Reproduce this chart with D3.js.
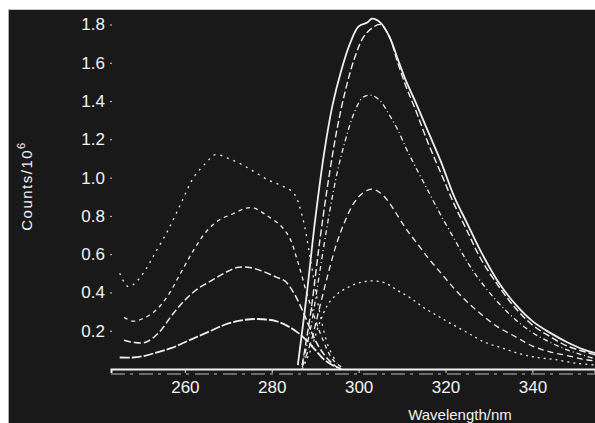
<!DOCTYPE html>
<html>
<head>
<meta charset="utf-8">
<script src="https://cdn.jsdelivr.net/npm/d3@7"></script>
<style>
  html, body { margin: 0; padding: 0; background: #ffffff; }
  #chart-container { width: 595px; height: 423px; }
  .tick text { font-family: "Liberation Sans Narrow", "Liberation Sans", Arial, sans-serif; }
</style>
</head>
<body>
<div id="chart-container"></div>
<script>
// x ticks / y ticks
const xTicks = [260, 280, 300, 320, 340];
const yTicks = [0.2, 0.4, 0.6, 0.8, 1.0, 1.2, 1.4, 1.6, 1.8];

// excitation spectra (left group) [nm, counts/10^6]
const excitation1 = [[245,0.06],[248,0.06],[251,0.07],[254,0.09],[257,0.11],[260,0.14],[263,0.17],[266,0.2],[269,0.23],[272,0.25],[275,0.26],[278,0.26],[281,0.25],[284,0.22],[286,0.19],[288,0.15],[290,0.1],[292,0.05],[294,0.02],[296,0.0]];
const excitation2 = [[246,0.15],[248,0.14],[251,0.14],[254,0.19],[257,0.28],[260,0.36],[263,0.42],[266,0.46],[269,0.5],[272,0.53],[275,0.53],[278,0.51],[281,0.48],[283,0.46],[285,0.4],[287,0.31],[289,0.2],[291,0.11],[293,0.05],[295,0.01]];
const excitation3 = [[246,0.27],[248,0.25],[250,0.26],[253,0.3],[256,0.38],[259,0.5],[262,0.62],[265,0.72],[268,0.78],[271,0.81],[274,0.84],[276,0.84],[279,0.8],[282,0.75],[284,0.69],[286,0.56],[288,0.4],[290,0.26],[292,0.14],[294,0.05],[296,0.01]];
const excitation4 = [[245,0.5],[247,0.43],[249,0.46],[251,0.52],[253,0.6],[256,0.72],[259,0.86],[262,1.0],[265,1.08],[267,1.12],[270,1.1],[273,1.07],[276,1.03],[279,0.99],[282,0.96],[285,0.92],[287,0.8],[289,0.56],[291,0.3],[293,0.12],[295,0.03]];

// emission spectra (right group)
const emission1 = [[286,0.02],[288,0.38],[290,0.78],[292,1.12],[294,1.38],[296,1.56],[298,1.7],[300,1.79],[302,1.81],[303,1.83],[305,1.81],[307,1.74],[309,1.62],[311,1.5],[313,1.4],[316,1.24],[319,1.08],[322,0.9],[325,0.76],[328,0.62],[332,0.46],[336,0.34],[340,0.25],[344,0.19],[348,0.14],[352,0.1],[355,0.08]];
const emission2 = [[287,0.02],[289,0.3],[291,0.66],[293,0.98],[295,1.25],[297,1.46],[299,1.62],[301,1.73],[303,1.78],[305,1.8],[307,1.74],[309,1.6],[311,1.47],[313,1.36],[316,1.18],[319,1.02],[322,0.86],[325,0.72],[328,0.58],[332,0.44],[336,0.32],[340,0.23],[344,0.17],[348,0.12],[352,0.09],[355,0.07]];
const emission3 = [[287,0.02],[289,0.22],[291,0.5],[293,0.78],[295,1.02],[297,1.2],[299,1.34],[301,1.42],[303,1.43],[305,1.4],[307,1.33],[309,1.25],[311,1.15],[313,1.06],[316,0.93],[319,0.8],[322,0.68],[325,0.56],[328,0.46],[332,0.35],[336,0.26],[340,0.19],[344,0.14],[348,0.1],[352,0.07],[355,0.05]];
const emission4 = [[287,0.01],[289,0.14],[291,0.32],[293,0.5],[295,0.66],[297,0.78],[299,0.87],[301,0.92],[303,0.94],[305,0.92],[307,0.87],[309,0.8],[311,0.73],[313,0.67],[316,0.58],[319,0.5],[322,0.42],[325,0.35],[328,0.29],[332,0.22],[336,0.17],[340,0.12],[344,0.09],[348,0.07],[352,0.05],[355,0.04]];
const emission5 = [[287,0.0],[289,0.1],[291,0.24],[293,0.34],[295,0.39],[297,0.42],[300,0.45],[303,0.46],[306,0.45],[309,0.41],[312,0.37],[315,0.32],[318,0.28],[321,0.24],[325,0.19],[329,0.14],[333,0.11],[337,0.08],[341,0.06],[345,0.05],[350,0.03],[355,0.02]];

const seriesList = [
    { data: excitation1, dash: '10,2', width: 1.8 },
    { data: excitation2, dash: '7,3', width: 1.5 },
    { data: excitation3, dash: '4,4', width: 1.3 },
    { data: excitation4, dash: '2,5', width: 1.3 },
    { data: emission1, dash: null, width: 1.8 },
    { data: emission2, dash: '7,3', width: 1.4 },
    { data: emission3, dash: '5,3,1,3', width: 1.3 },
    { data: emission4, dash: '6,4', width: 1.3 },
    { data: emission5, dash: '2,4', width: 1.3 }
];

function renderChart() {
    const container = document.getElementById('chart-container');
    const width = 595, height = 423;

    const svg = d3.select(container).append('svg')
        .attr('width', width).attr('height', height);

    // scanned black panel
    svg.append('rect').attr('x', 8).attr('y', 9)
        .attr('width', width - 8).attr('height', height - 9)
        .attr('fill', '#191919');
    svg.append('line').attr('x1', 8.5).attr('x2', 8.5).attr('y1', 9).attr('y2', height)
        .attr('stroke', '#b0b0b0');
    svg.append('line').attr('x1', 8).attr('x2', width).attr('y1', 9.5).attr('y2', 9.5)
        .attr('stroke', '#c8c8c8');

    const x = d3.scaleLinear().domain([243, 354.4]).range([111, 595]);
    const y = d3.scaleLinear().domain([0, 1.8]).range([369, 24.5]);

    // baseline + faint dashed line under it
    svg.append('line').attr('x1', x(243)).attr('x2', x(354.4))
        .attr('y1', y(0) + 5).attr('y2', y(0) + 5)
        .attr('stroke', '#bbbbbb').attr('stroke-width', 1.2).attr('stroke-dasharray', '14,5,3,6');

    const xAxis = svg.append('g').attr('transform', `translate(0,${y(0)})`)
        .call(d3.axisBottom(x).tickValues(xTicks).tickSize(4).tickPadding(8).tickFormat(d3.format('d')));
    xAxis.select('.domain').attr('stroke', '#f2f2f2').attr('stroke-width', 2);
    xAxis.selectAll('.tick line').attr('stroke', '#dddddd');
    xAxis.selectAll('.tick text').attr('fill', '#f2f2f2').style('font-size', '17px');

    const yAxis = svg.append('g').attr('transform', 'translate(112,0)')
        .call(d3.axisLeft(y).tickValues(yTicks).tickSize(2).tickPadding(5).tickFormat(d3.format('.1f')));
    yAxis.select('.domain').remove();
    yAxis.selectAll('.tick line').attr('stroke', '#cccccc');
    yAxis.selectAll('.tick text').attr('fill', '#f2f2f2').style('font-size', '17px');

    const line = d3.line()
        .x(d => x(d[0]))
        .y(d => y(d[1]))
        .curve(d3.curveCatmullRom.alpha(0.5));

    svg.append('g').selectAll('path').data(seriesList).join('path')
        .attr('d', d => line(d.data))
        .attr('fill', 'none')
        .attr('stroke', '#eeeeee')
        .attr('stroke-width', d => d.width)
        .attr('stroke-dasharray', d => d.dash);

    // axis titles
    const yTitle = svg.append('text')
        .attr('transform', 'translate(32,186) rotate(-90)')
        .attr('text-anchor', 'middle')
        .attr('fill', '#f2f2f2')
        .style('font', '15px "Liberation Sans", Arial, sans-serif')
        .style('letter-spacing', '1.5px');
    yTitle.append('tspan').text('Counts/10');
    yTitle.append('tspan').attr('dy', -7).style('font-size', '11px').text('6');

    svg.append('text')
        .attr('x', 460).attr('y', 420)
        .attr('text-anchor', 'middle')
        .attr('fill', '#f2f2f2')
        .style('font', '15px "Liberation Sans", Arial, sans-serif')
        .text('Wavelength/nm');
}

document.addEventListener('DOMContentLoaded', renderChart);
</script>
</body>
</html>
